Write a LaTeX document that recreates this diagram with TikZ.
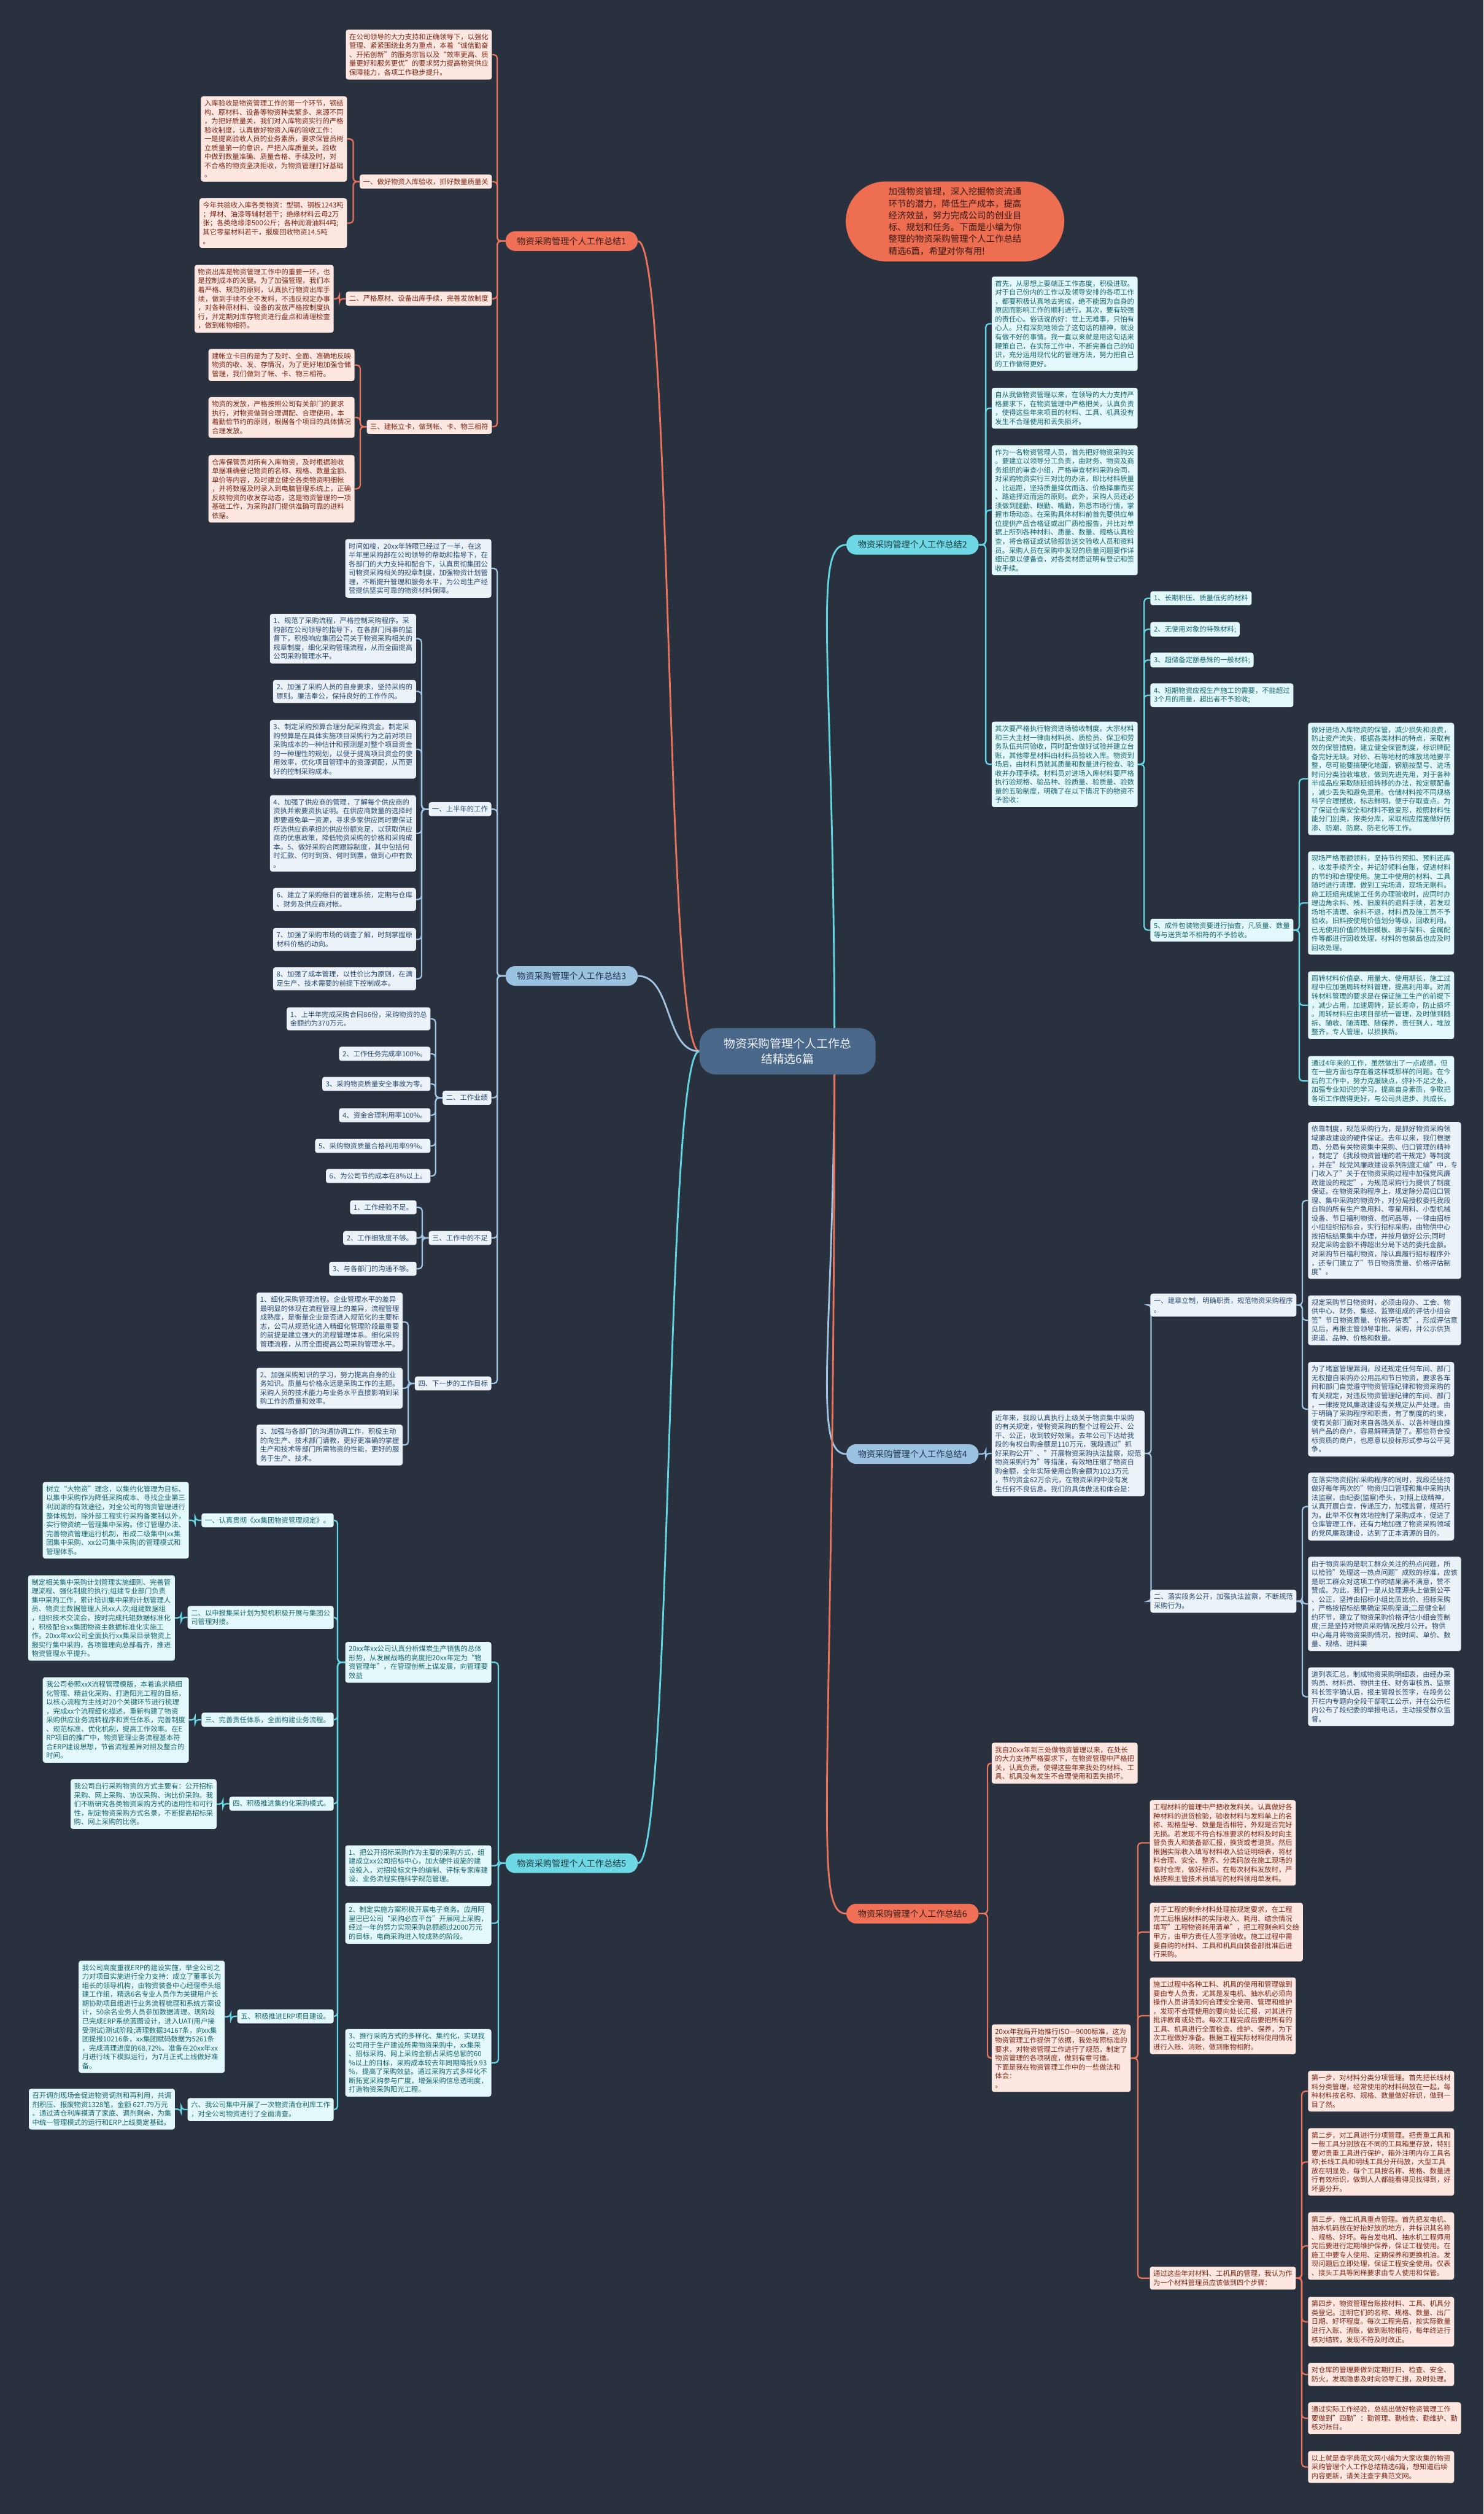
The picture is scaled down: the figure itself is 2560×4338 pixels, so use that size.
\documentclass[tikz,border=0pt]{standalone}
\usepackage{fontspec}
\setmainfont{Noto Sans CJK SC}
\usetikzlibrary{backgrounds}
\definecolor{bgc}{RGB}{41,49,63}
\definecolor{corl}{RGB}{233,115,91}
\definecolor{corpill}{RGB}{240,113,87}
\definecolor{cortxt}{RGB}{55,28,22}
\definecolor{pinkf}{RGB}{253,231,224}
\definecolor{pinkt}{RGB}{122,38,22}
\definecolor{cyl}{RGB}{99,214,226}
\definecolor{cypillf}{RGB}{110,216,228}
\definecolor{cypt}{RGB}{25,55,65}
\definecolor{cyf}{RGB}{226,248,250}
\definecolor{cyt}{RGB}{22,100,110}
\definecolor{bll}{RGB}{160,196,226}
\definecolor{blpillf}{RGB}{156,194,226}
\definecolor{blpt}{RGB}{30,50,75}
\definecolor{blf}{RGB}{235,243,249}
\definecolor{blt}{RGB}{40,72,110}
\definecolor{cenf}{RGB}{74,104,138}
\definecolor{cent}{RGB}{240,244,248}
\definecolor{introf}{RGB}{238,110,82}
\definecolor{introt}{RGB}{55,25,18}
\newcommand\Lk[4]{\draw[#1] (#3.west) -- ++(-#2,0) |- (#4.east);}
\newcommand\Rk[4]{\draw[#1] (#3.east) -- ++(#2,0) |- (#4.west);}
\begin{document}
\begin{tikzpicture}[x=1pt,y=-1pt,
 box/.style={rounded corners=4,align=left,inner xsep=6,inner ysep=6.5,font=\fontsize{12}{15.4}\selectfont},
 pk/.style={box,fill=pinkf,text=pinkt},
 cy/.style={box,fill=cyf,text=cyt},
 bl/.style={box,fill=blf,text=blt},
 bne/.style={anchor=north east},
 bnw/.style={anchor=north west},
 pill/.style={rounded corners=17,minimum height=34,inner xsep=20,inner ysep=0,font=\fontsize{15}{18}\selectfont},
 pillr/.style={pill,fill=corpill,text=cortxt},
 pillc/.style={pill,fill=cypillf,text=cypt},
 pillb/.style={pill,fill=blpillf,text=blpt},
 lr/.style={draw=corl,line width=2.4,rounded corners=6},
 lc/.style={draw=cyl,line width=2.4,rounded corners=6},
 lb/.style={draw=bll,line width=2.4,rounded corners=6}]
\begin{pgfonlayer}{background}
\fill[bgc] (0,0) rectangle (2560,4338);
\end{pgfonlayer}
% centre
\node[fill=cenf,text=cent,rounded corners=28,minimum width=304,minimum height=80,align=center,font=\fontsize{20}{27}\selectfont] (c) at (1359,1814) {物资采购管理个人工作总\\结精选6篇};
\coordinate (cr) at (1440,1814);
\node[fill=introf,text=introt,rounded corners=69,minimum width=377,minimum height=138,align=left,font=\fontsize{15.3}{20.4}\selectfont] (intro) at (1648,382) {加强物资管理，深入挖掘物资流通\\环节的潜力，降低生产成本，提高\\经济效益，努力完成公司的创业目\\标、规划和任务。下面是小编为你\\整理的物资采购管理个人工作总结\\精选6篇，希望对你有用!};
% pills
\node[pillr,anchor=west] (b1) at (872,416) {物资采购管理个人工作总结1};
\node[pillb,anchor=west] (b3) at (872,1684) {物资采购管理个人工作总结3};
\node[pillc,anchor=west] (b5) at (872,3215) {物资采购管理个人工作总结5};
\node[pillc,anchor=east] (b2) at (1689,940) {物资采购管理个人工作总结2};
\node[pillb,anchor=east] (b4) at (1689,2509) {物资采购管理个人工作总结4};
\node[pillr,anchor=east] (b6) at (1689,3302) {物资采购管理个人工作总结6};
% ---------- branch 1
\node[pk,bne] (b1i) at (849,51) {在公司领导的大力支持和正确领导下，以强化\\管理、紧紧围绕业务为重点，本着“诚信勤奋\\、开拓创新”的服务宗旨以及“效率更高、质\\量更好和服务更优”的要求努力提高物资供应\\保障能力，各项工作稳步提升。};
\node[pk,bne] (b1s1) at (849,301) {一、做好物资入库验收，抓好数量质量关};
\node[pk,bne] (b1s2) at (849,503) {二、严格原材、设备出库手续，完善发放制度};
\node[pk,bne] (b1s3) at (849,724) {三、建帐立卡，做到帐、卡、物三相符};
\node[pk,bne] (b1a) at (599,166) {入库验收是物资管理工作的第一个环节，钢结\\构、原材料、设备等物资种类繁多、来源不同\\，为把好质量关，我们对入库物资实行的严格\\验收制度，认真做好物资入库的验收工作：\\一是提高验收人员的业务素质，要求保管员树\\立质量第一的意识，严把入库质量关。验收\\中做到数量准确、质量合格、手续及时，对\\不合格的物资坚决拒收，为物资管理打好基础\\。};
\node[pk,bne] (b1b) at (599,342) {今年共验收入库各类物资：型钢、钢板1243吨\\；焊材、油漆等辅材若干；绝缘材料云母2万\\张；各类绝缘漆500公斤；各种润滑油料4吨;\\其它零星材料若干，报废回收物资14.5吨\\。};
\node[pk,bne] (b1c) at (576,457) {物资出库是物资管理工作中的重要一环，也\\是控制成本的关键。为了加强管理，我们本\\着严格、规范的原则，认真执行物资出库手\\续，做到手续不全不发料，不违反规定办事\\，对各种原材料、设备的发放严格按制度执\\行，并定期对库存物资进行盘点和清理检查\\，做到帐物相符。};
\node[pk,bne] (b1d) at (612,602) {建帐立卡目的是为了及时、全面、准确地反映\\物资的收、发、存情况，为了更好地加强仓储\\管理，我们做到了帐、卡、物三相符。};
\node[pk,bne] (b1e) at (612,685) {物资的发放，严格按照公司有关部门的要求\\执行，对物资做到合理调配、合理使用，本\\着勤俭节约的原则，根据各个项目的具体情况\\合理发放。};
\node[pk,bne] (b1f) at (612,785) {仓库保管员对所有入库物资，及时根据验收\\单据准确登记物资的名称、规格、数量金额、\\单价等内容，及时建立健全各类物资明细帐\\，并将数据及时录入到电脑管理系统上，正确\\反映物资的收发存动态，这是物资管理的一项\\基础工作，为采购部门提供准确可靠的进料\\依据。};
% ---------- branch 3
\node[bl,bne] (b3i) at (848,930) {时间如梭，20xx年转眼已经过了一半，在这\\半年里采购部在公司领导的帮助和指导下，在\\各部门的大力支持和配合下，认真贯彻集团公\\司物资采购相关的规章制度，加强物资计划管\\理，不断提升管理和服务水平，为公司生产经\\营提供坚实可靠的物资材料保障。};
\node[bl,bne] (b3s1) at (848,1384) {一、上半年的工作};
\node[bl,bne] (b3s2) at (848,1882) {二、工作业绩};
\node[bl,bne] (b3s3) at (848,2124) {三、工作中的不足};
\node[bl,bne] (b3s4) at (848,2375) {四、下一步的工作目标};
\node[bl,bne] (b3a1) at (718,1059) {1、规范了采购流程，严格控制采购程序。采\\购部在公司领导的指导下，在各部门同事的监\\督下，积极响应集团公司关于物资采购相关的\\规章制度，细化采购管理流程，从而全面提高\\公司采购管理水平。};
\node[bl,bne] (b3a2) at (718,1173) {2、加强了采购人员的自身要求，坚持采购的\\原则。廉洁奉公，保持良好的工作作风。};
\node[bl,bne] (b3a3) at (718,1242) {3、制定采购预算合理分配采购资金。制定采\\购预算是在具体实施项目采购行为之前对项目\\采购成本的一种估计和预测是对整个项目资金\\的一种理性的规划，以便于提高项目资金的使\\用效率，优化项目管理中的资源调配，从而更\\好的控制采购成本。};
\node[bl,bne] (b3a4) at (718,1372) {4、加强了供应商的管理，了解每个供应商的\\资执并索要资执证明。在供应商数量的选择时\\即要避免单一资源，寻求多家供应同时要保证\\所选供应商承担的供应份额充足，以获取供应\\商的优惠政策，降低物资采购的价格和采购成\\本。5、做好采购合同跟踪制度，其中包括何\\时汇款、何时到货、何时到票，做到心中有数\\。};
\node[bl,bne] (b3a6) at (718,1532) {6、建立了采购账目的管理系统，定期与仓库\\、财务及供应商对帐。};
\node[bl,bne] (b3a7) at (718,1601) {7、加强了采购市场的调查了解，时刻掌握原\\材料价格的动向。};
\node[bl,bne] (b3a8) at (718,1669) {8、加强了成本管理，以性价比为原则，在满\\足生产、技术需要的前提下控制成本。};
\node[bl,bne] (b3b1) at (743,1738) {1、上半年完成采购合同86份，采购物资的总\\金额约为370万元。};
\node[bl,bne] (b3b2) at (743,1806) {2、工作任务完成率100\%。};
\node[bl,bne] (b3b3) at (743,1858) {3、采购物资质量安全事故为零。};
\node[bl,bne] (b3b4) at (743,1912) {4、资金合理利用率100\%。};
\node[bl,bne] (b3b5) at (743,1965) {5、采购物资质量合格利用率99\%。};
\node[bl,bne] (b3b6) at (743,2017) {6、为公司节约成本在8\%以上。};
\node[bl,bne] (b3c1) at (719,2071) {1、工作经验不足。};
\node[bl,bne] (b3c2) at (719,2124) {2、工作细致度不够。};
\node[bl,bne] (b3c3) at (719,2177) {3、与各部门的沟通不够。};
\node[bl,bne] (b3d1) at (695,2230) {1、细化采购管理流程。企业管理水平的差异\\最明显的体现在流程管理上的差异，流程管理\\成熟度，是衡量企业是否进入规范化的主要标\\志，公司从规范化进入精细化管理阶段最重要\\的前提是建立强大的流程管理体系。细化采购\\管理流程，从而全面提高公司采购管理水平。};
\node[bl,bne] (b3d2) at (695,2360) {2、加强采购知识的学习，努力提高自身的业\\务知识。质量与价格永远是采购工作的主题。\\采购人员的技术能力与业务水平直接影响到采\\购工作的质量和效率。};
\node[bl,bne] (b3d3) at (695,2458) {3、加强与各部门的沟通协调工作，积极主动\\的向生产、技术部门请教，更好更准确的掌握\\生产和技术等部门所需物资的性能，更好的服\\务于生产、技术。};
% ---------- branch 5
\node[cy,bne] (b5i) at (848,2833) {20xx年xx公司认真分析煤炭生产销售的总体\\形势，从发展战略的高度把20xx年定为“物\\资管理年”，在管理创新上谋发展，向管理要\\效益};
\node[cy,bne] (b5r1) at (848,3184) {1、把公开招标采购作为主要的采购方式，组\\建成立xx公司招标中心，加大硬件设施的建\\设投入，对招投标文件的编制、评标专家库建\\设、业务流程实施科学规范管理。};
\node[cy,bne] (b5r2) at (848,3283) {2、制定实施方案积极开展电子商务。应用阿\\里巴巴公司“采购必应平台”开展网上采购，\\经过一年的努力实现采购总额超过2000万元\\的目标，电商采购进入较成熟的阶段。};
\node[cy,bne] (b5r3) at (848,3501) {3、推行采购方式的多样化、集约化，实现我\\公司用于生产建设所需物资采购中，xx集采\\、招标采购、网上采购金额占采购总额的60\\\%以上的目标，采购成本较去年同期降抵9.93\\\%，提高了采购效益。通过采购方式多样化不\\断拓宽采购参与广度，增强采购信息透明度，\\打造物资采购阳光工程。};
\node[cy,bne] (b5s1) at (576,2611) {一、认真贯彻《xx集团物资管理规定》。};
\node[cy,bne] (b5s2) at (576,2771) {二、以申报集采计划为契机积极开展与集团公\\司管理对接。};
\node[cy,bne] (b5s3) at (576,2955) {三、完善责任体系，全面构建业务流程。};
\node[cy,bne] (b5s4) at (576,3100) {四、积极推进集约化采购模式。};
\node[cy,bne] (b5s5) at (576,3467) {五、积极推进ERP项目建设。};
\node[cy,bne] (b5s6) at (576,3620) {六、我公司集中开展了一次物资清仓利库工作\\，对全公司物资进行了全面清查。};
\node[cy,bne] (b5t1) at (326,2557) {树立“大物资”理念，以集约化管理为目标、\\以集中采购作为降低采购成本、寻找企业第三\\利润源的有效途径，对全公司的物资管理进行\\整体规划，除外部工程实行采购备案制以外，\\实行物资统一管理集中采购。修订管理办法、\\完善物资管理运行机制，形成二级集中(xx集\\团集中采购、xx公司集中采购)的管理模式和\\管理体系。};
\node[cy,bne] (b5t2) at (302,2718) {制定相关集中采购计划管理实施细则、完善管\\理流程、强化制度的执行;组建专业部门负责\\集中采购工作，累计培训集中采购计划管理人\\员、物资主数据管理人员xx人次;组建数据组\\，组织技术交流会，按时完成托辊数据标准化\\，积极配合xx集团物资主数据标准化实施工\\作。20xx年xx公司全面执行xx集采目录物资上\\报实行集中采购，各项管理向总部看齐，推进\\物资管理水平提升。};
\node[cy,bne] (b5t3) at (326,2894) {我公司参照xxX流程管理模版，本着追求精细\\化管理、精益化采购、打造阳光工程的目标，\\以核心流程为主线对20个关键环节进行梳理\\，完成xx个流程细化描述，重新构建了物资\\采购供应业务流转程序和责任体系，完善制度\\、规范标准、优化机制，提高工作效率。在E\\RP项目的推广中，物资管理业务流程基本符\\合ERP建设思想，节省流程差异对照及整合的\\时间。};
\node[cy,bne] (b5t4) at (374,3070) {我公司自行采购物资的方式主要有：公开招标\\采购、网上采购、协议采购、询比价采购。我\\们不断研究各类物资采购方式的适用性和可行\\性，制定物资采购方式名录，不断提高招标采\\购、网上采购的比例。};
\node[cy,bne] (b5t5) at (388,3383) {我公司高度重视ERP的建设实施，举全公司之\\力对项目实施进行全力支持：成立了董事长为\\组长的领导机构，由物资装备中心经理牵头组\\建工作组，精选6名专业人员作为关键用户长\\期协助项目组进行业务流程梳理和系统方案设\\计，50余名业务人员参加数据清理。现阶段\\已完成ERP系统蓝图设计，进入UAT(用户接\\受测试)测试阶段;清理数据34167条，向xx集\\团提报10216条，xx集团赋码数据为5261条\\，完成清理进度的68.72\%。准备在20xx年xx\\月进行线下模拟运行，为7月正式上线做好准\\备。};
\node[cy,bne] (b5t6) at (302,3604) {召开调剂现场会促进物资调剂和再利用，共调\\剂积压、报废物资1328笔，金额 627.79万元\\。通过清仓利库摸清了家底、调剂剩余，为集\\中统一管理模式的运行和ERP上线奠定基础。};
% ---------- branch 2
\node[cy,bnw] (b2a) at (1711,477) {首先，从思想上要端正工作态度，积极进取。\\对于自己份内的工作以及领导安排的各项工作\\，都要积极认真地去完成，绝不能因为自身的\\原因而影响工作的顺利进行。其次，要有较强\\的责任心。俗话说的好：世上无难事，只怕有\\心人。只有深刻地领会了这句话的精神，就没\\有做不好的事情。我一直以来就是用这句话来\\鞭策自己，在实际工作中，不断完善自己的知\\识，充分运用现代化的管理方法，努力把自己\\的工作做得更好。};
\node[cy,bnw] (b2b) at (1711,669) {自从我做物资管理以来，在领导的大力支持严\\格要求下，在物资管理中严格把关，认真负责\\，使得这些年来项目的材料、工具、机具没有\\发生不合理使用和丢失损坏。};
\node[cy,bnw] (b2c) at (1711,768) {作为一名物资管理人员，首先把好物资采购关\\。要建立以领导分工负责，由财务、物资及商\\务组织的审查小组，严格审查材料采购合同，\\对采购物资实行三对比的办法，即比材料质量\\、比运距，坚持质量择优而选、价格择廉而买\\、路途择近而运的原则。此外，采购人员还必\\须做到腿勤、眼勤、嘴勤，熟悉市场行情，掌\\握市场动态。在采购具体材料前首先要供应单\\位提供产品合格证或出厂质检报告，并比对单\\据上所列各种材料、质量、数量、规格认真检\\查，将合格证或试验报告送交验收人员和资料\\员。采购人员在采购中发现的质量问题要作详\\细记录以便备查，对各类材质证明有登记和签\\收手续。};
\node[cy,bnw] (b2d) at (1711,1245) {其次要严格执行物资进场验收制度。大宗材料\\和三大主材一律由材料员、质检员、保卫和劳\\务队伍共同验收，同时配合做好试验并建立台\\账，其他零星材料由材料员验收入库。物资到\\场后，由材料员就其质量和数量进行检查、验\\收并办理手续。材料员对进场入库材料要严格\\执行验规格、验品种、验质量、验质量、验数\\量的五验制度，明确了在以下情况下的物资不\\予验收：};
\node[cy,bnw] (b2d1) at (1985,1020) {1、长期积压、质量低劣的材料};
\node[cy,bnw] (b2d2) at (1985,1073) {2、无使用对象的特殊材料;};
\node[cy,bnw] (b2d3) at (1985,1126) {3、超储备定额悬殊的一般材料;};
\node[cy,bnw] (b2d4) at (1985,1179) {4、短期物资应视生产施工的需要，不能超过\\3个月的用量，超出者不予验收;};
\node[cy,bnw] (b2d5) at (1985,1585) {5、成件包装物资要进行抽查，凡质量、数量\\等与送货单不相符的不予验收。};
\node[cy,bnw] (b2e1) at (2257,1247) {做好进场入库物资的保管，减少损失和浪费，\\防止资产流失，根据各类材料的特点，采取有\\效的保管措施，建立健全保管制度，标识牌配\\备完好无缺。对砂、石等地材的堆放场地要平\\整，尽可能要搞硬化地面，钢筋按型号、进场\\时间分类验收堆放，做到先进先用，对于各种\\半成品应采取随班组转移的办法，按定额配备\\，减少丢失和避免混用。仓储材料按不同规格\\科学合理摆放，标志鲜明，便于存取查点。为\\了保证仓库安全和材料不致变形，按照材料性\\能分门别类，按类分库，采取相应措施做好防\\渗、防潮、防腐、防老化等工作。};
\node[cy,bnw] (b2e2) at (2257,1469) {现场严格限额领料，坚持节约预扣、预料还库\\，收发手续齐全，并记好领料台账，促进材料\\的节约和合理使用。施工中使用的材料、工具\\随时进行清理，做到工完场清，现场无剩料。\\施工班组完成施工任务办理验收时，应同时办\\理边角余料、残、旧废料的退料手续，若发现\\场地不清理、余料不退，材料员及施工员不予\\验收。旧料按使用价值划分等级，回收利用。\\已无使用价值的残旧模板、脚手架料、金属配\\件等都进行回收处理，材料的包装品也应及时\\回收处理。};
\node[cy,bnw] (b2e3) at (2257,1676) {周转材料价值高、用量大、使用期长，施工过\\程中应加强周转材料管理，提高利用率。对周\\转材料管理的要求是在保证施工生产的前提下\\，减少占用，加速周转，延长寿命，防止损坏\\。周转材料应由项目部统一管理，及时做到随\\拆、随收、随清理、随保养，责任到人，堆放\\整齐，专人管理，以损换新。};
\node[cy,bnw] (b2e4) at (2257,1822) {通过4年来的工作，虽然做出了一点成绩，但\\在一些方面也存在着这样或那样的问题。在今\\后的工作中，努力克服缺点，弥补不足之处，\\加强专业知识的学习，提高自身素质，争取把\\各项工作做得更好，与公司共进步、共成长。};
% ---------- branch 4
\node[bl,bnw] (b4i) at (1711,2434) {近年来，我段认真执行上级关于物资集中采购\\的有关规定，使物资采购的整个过程公开、公\\平、公正，收到较好效果。去年公司下达给我\\段的有权自购金额是110万元，我段通过"抓\\好采购公开"、"开展物资采购执法监察，规范\\物资采购行为"等措施，有效地压缩了物资自\\购金额，全年实际使用自购金额为1023万元\\，节约资金62万余元，在物资采购中没有发\\生任何不良信息。我们的具体做法和体会是：};
\node[bl,bnw] (b4s1) at (1985,2232) {一、建章立制，明确职责，规范物资采购程序\\。};
\node[bl,bnw] (b4s2) at (1985,2743) {二、落实段务公开，加强执法监察，不断规范\\采购行为。};
\node[bl,bnw] (b4e) at (2257,1936) {依靠制度，规范采购行为，是抓好物资采购领\\域廉政建设的硬件保证。去年以来，我们根据\\局、分局有关物资集中采购、归口管理的精神\\，制定了《我段物资管理的若干规定》等制度\\，并在"段党风廉政建设系列制度汇编"中，专\\门收入了"关于在物资采购过程中加强党风廉\\政建设的规定"，为规范采购行为提供了制度\\保证。在物资采购程序上，规定除分局归口管\\理、集中采购的物资外，对分局授权委托我段\\自购的所有生产急用料、零星用料、小型机械\\设备、节日福利物资、慰问品等，一律由招标\\小组组织招标会，实行招标采购，由物供中心\\按招标结果集中办理，并按月做好公示;同时\\规定采购金额不得超出分局下达的委托金额。\\对采购节日福利物资，除认真履行招标程序外\\，还专门建立了"节日物资质量、价格评估制\\度"。};
\node[bl,bnw] (b4f) at (2257,2235) {规定采购节日物资时，必须由段办、工会、物\\供中心、财务、集经、监察组成的评估小组会\\签"节日物资质量、价格评估表"，形成评估意\\见后，再报主管领导审批、采购，并公示供货\\渠道、品种、价格和数量。};
\node[bl,bnw] (b4g) at (2257,2350) {为了堵塞管理漏洞，段还规定任何车间、部门\\无权擅自采购办公用品和节日物资，要求各车\\间和部门自觉遵守物资管理纪律和物资采购的\\有关规定，对违反物资管理纪律的车间、部门\\，一律按党风廉政建设有关规定从严处理。由\\于明确了采购程序和职责，有了制度的约束，\\使有关部门面对来自各路关系、以各种理由推\\销产品的商户，容易解释清楚了。那些符合投\\标资质的商户，也愿意以投标形式参与公平竞\\争。};
\node[bl,bnw] (b4h) at (2257,2541) {在落实物资招标采购程序的同时，我段还坚持\\做好每年两次的"物资归口管理和集中采购执\\法监察，由纪委(监察)牵头，对照上级精神，\\认真开展自查，传递压力，加强监督，规范行\\为。此举不仅有效地控制了采购成本，促进了\\仓库管理工作，还有力地加强了物资采购领域\\的党风廉政建设，达到了正本清源的目的。};
\node[bl,bnw] (b4i2) at (2257,2686) {由于物资采购是职工群众关注的热点问题，所\\以检验"处理这一热点问题"成败的标准，应该\\是职工群众对这项工作的结果满不满意，赞不\\赞成。为此，我们一是从处理源头上做到公平\\、公正，坚持由招标小组比质比价、招标采购\\，严格按招标结果确定采购渠道;二是健全制\\约环节，建立了物资采购价格评估小组会签制\\度;三是坚持对物资采购情况按月公开。物供\\中心每月将物资采购情况，按时间、单价、数\\量、规格、进料渠};
\node[bl,bnw] (b4j) at (2257,2877) {道列表汇总，制成物资采购明细表，由经办采\\购员、材料员、物供主任、财务审核员、监察\\科长签字确认后，报主管段长签字，在段务公\\开栏内专题向全段干部职工公示，并在公示栏\\内公布了段纪委的举报电话，主动接受群众监\\督。};
% ---------- branch 6
\node[pk,bnw] (b6a) at (1711,3007) {我自20xx年到三处做物资管理以来，在处长\\的大力支持严格要求下，在物资管理中严格把\\关，认真负责。使得这些年来我处的材料、工\\具、机具没有发生不合理使用和丢失损坏。};
\node[pk,bnw] (b6b) at (1711,3493) {20xx年我局开始推行ISO—9000标准，这为\\物资管理工作提供了依据，我处按照标准的\\要求，对物资管理工作进行了规范，制定了\\物资管理的各项制度，做到有章可循。\\下面是我在物资管理工作中的一些做法和\\体会：\\。};
\node[pk,bnw] (b6p1) at (1984,3106) {工程材料的管理中严把收发料关。认真做好各\\种材料的进货检验，验收材料与发料单上的名\\称、规格型号、数量是否相符，外观是否完好\\无损。若发现不符合标准要求的材料及时向主\\管负责人和装备部汇报，换货或者退货。然后\\根据实际收入填写材料收入验证明细表，将材\\料合理、安全、整齐、分类码放在施工现场的\\临时仓库，做好标识。在每次材料发放时，严\\格按照主管技术员填写的材料领用单发料。};
\node[pk,bnw] (b6p2) at (1984,3283) {对于工程的剩余材料处理按规定要求，在工程\\完工后根据材料的实际收入、耗用、结余情况\\填写"工程物资耗用清单"，把工程剩余料交给\\甲方，由甲方责任人签字验收。施工过程中需\\要自购的材料、工具和机具由装备部批准后进\\行采购。};
\node[pk,bnw] (b6p3) at (1984,3412) {施工过程中各种工料、机具的使用和管理做到\\要由专人负责，尤其是发电机、抽水机必须向\\操作人员讲清如何合理安全使用、管理和维护\\，发现不合理使用的要向处长汇报，对其进行\\批评教育或处罚。每次工程完成后要把所有的\\工具、机具进行全面检查、维护、保养，为下\\次工程做好准备。根据工程实际材料使用情况\\进行入账、消账，做到账物相附。};
\node[pk,bnw] (b6p4) at (1984,3911) {通过这些年对材料、工机具的管理，我认为作\\为一个材料管理员应该做到四个步骤：};
\node[pk,bnw] (b6s1) at (2257,3573) {第一步，对材料分类分项管理。首先把长线材\\料分类管理，经常使用的材料码放在一起，每\\种材料按名称、规格、数量做好标识，做到一\\目了然。};
\node[pk,bnw] (b6s2) at (2257,3672) {第二步，对工具进行分项管理。把贵重工具和\\一般工具分别放在不同的工具箱里存放，特别\\要对贵重工具进行保护，箱外注明内存工具名\\称;长线工具和明线工具分开码放，大型工具\\放在明显处，每个工具按名称、规格、数量进\\行有效标识，做到人人都能看得见找得到，好\\坏要分开。};
\node[pk,bnw] (b6s3) at (2257,3817) {第三步，施工机具重点管理。首先把发电机、\\抽水机码放在好抬好放的地方，并标识其名称\\、规格、好坏。每台发电机、抽水机工程师用\\完后要进行定期维护保养，保证工程使用。在\\施工中要专人使用、定期保养和更换机油。发\\现问题后立即处理，保证工程安全使用。仪表\\、接头工具等同样要求由专人使用和保管。};
\node[pk,bnw] (b6s4) at (2257,3963) {第四步，物资管理台账按材料、工具、机具分\\类登记。注明它们的名称、规格、数量、出厂\\日期、好坏程度。每次工程完后，按实际数量\\进行入账、消账，做到账物相符，每年终进行\\核对结转，发现不符及时改正。};
\node[pk,bnw] (b6s5) at (2257,4077) {对仓库的管理要做到定期打扫、检查、安全、\\防火，发现隐患及时向领导汇报，及时处理。};
\node[pk,bnw] (b6s6) at (2257,4145) {通过实际工作经验，总结出做好物资管理工作\\要做到"四勤"：勤管理、勤检查、勤维护、勤\\核对账目。};
\node[pk,bnw] (b6s7) at (2257,4229) {以上就是查字典范文网小编为大家收集的物资\\采购管理个人工作总结精选6篇，想知道后续\\内容更新，请关注查字典范文网。};
% ---------- connectors
\begin{pgfonlayer}{background}
\draw[lr,line width=3] (c.west) .. controls +(-60,0) and +(60,0) .. (b1.east);
\draw[lb,line width=3] (c.west) .. controls +(-60,0) and +(60,0) .. (b3.east);
\draw[lc,line width=3] (c.west) .. controls +(-60,0) and +(60,0) .. (b5.east);
\draw[lc,line width=3] (cr) .. controls (1440,1150) and (1400,940) .. (b2.west);
\draw[lb,line width=3] (cr) .. controls (1440,2300) and (1400,2509) .. (b4.west);
\draw[lr,line width=3] (cr) .. controls (1440,3090) and (1400,3302) .. (b6.west);
\foreach \k in {b1i,b1s1,b1s2,b1s3} {\Lk{lr}{14}{b1}{\k}}
\foreach \k in {b1a,b1b} {\Lk{lr}{11}{b1s1}{\k}}
\Lk{lr}{11}{b1s2}{b1c}
\foreach \k in {b1d,b1e,b1f} {\Lk{lr}{11}{b1s3}{\k}}
\foreach \k in {b3i,b3s1,b3s2,b3s3,b3s4} {\Lk{lb}{14}{b3}{\k}}
\foreach \k in {b3a1,b3a2,b3a3,b3a4,b3a6,b3a7,b3a8} {\Lk{lb}{12}{b3s1}{\k}}
\foreach \k in {b3b1,b3b2,b3b3,b3b4,b3b5,b3b6} {\Lk{lb}{12}{b3s2}{\k}}
\foreach \k in {b3c1,b3c2,b3c3} {\Lk{lb}{11}{b3s3}{\k}}
\foreach \k in {b3d1,b3d2,b3d3} {\Lk{lb}{11}{b3s4}{\k}}
\foreach \k in {b5i,b5r1,b5r2,b5r3} {\Lk{lc}{12}{b5}{\k}}
\foreach \k in {b5s1,b5s2,b5s3,b5s4,b5s5,b5s6} {\Lk{lc}{13}{b5i}{\k}}
\Lk{lc}{11}{b5s1}{b5t1}
\Lk{lc}{11}{b5s2}{b5t2}
\Lk{lc}{11}{b5s3}{b5t3}
\Lk{lc}{11}{b5s4}{b5t4}
\Lk{lc}{11}{b5s5}{b5t5}
\Lk{lc}{11}{b5s6}{b5t6}
\foreach \k in {b2a,b2b,b2c,b2d} {\Rk{lc}{12}{b2}{\k}}
\foreach \k in {b2d1,b2d2,b2d3,b2d4,b2d5} {\Rk{lc}{11}{b2d}{\k}}
\foreach \k in {b2e1,b2e2,b2e3,b2e4} {\Rk{lc}{10}{b2d5}{\k}}
\Rk{lb}{12}{b4}{b4i}
\foreach \k in {b4s1,b4s2} {\Rk{lb}{11}{b4i}{\k}}
\foreach \k in {b4e,b4f,b4g} {\Rk{lb}{10}{b4s1}{\k}}
\foreach \k in {b4h,b4i2,b4j} {\Rk{lb}{10}{b4s2}{\k}}
\foreach \k in {b6a,b6b} {\Rk{lr}{15}{b6}{\k}}
\foreach \k in {b6p1,b6p2,b6p3,b6p4} {\Rk{lr}{12}{b6b}{\k}}
\foreach \k in {b6s1,b6s2,b6s3,b6s4,b6s5,b6s6,b6s7} {\Rk{lr}{10}{b6p4}{\k}}
\end{pgfonlayer}
\end{tikzpicture}
\end{document}
